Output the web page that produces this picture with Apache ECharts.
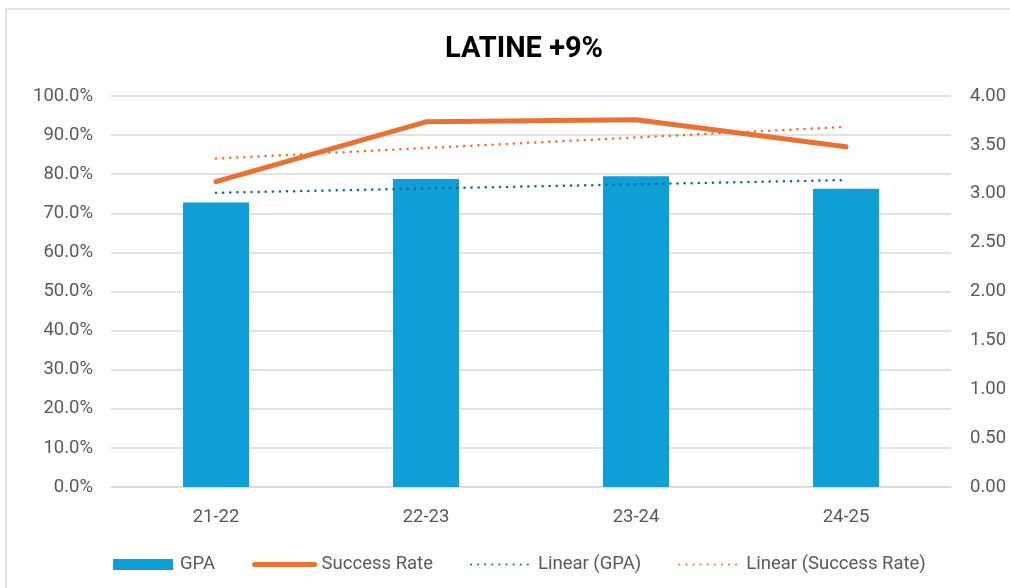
<!DOCTYPE html>
<html><head><meta charset="utf-8">
<script src="https://cdn.jsdelivr.net/npm/echarts@6/dist/echarts.min.js"></script>
<style>html,body{margin:0;padding:0;background:#fff}#c{width:1010px;height:588px}</style>
</head><body><div id="c"></div>
<script>
var categories = ['21-22', '22-23', '23-24', '24-25'];
var gpa = [2.91, 3.15, 3.18, 3.05];
var successRate = [78.1, 93.4, 93.9, 87.0];
// trendline endpoints (first and last category)
var gpaTrend = [3.01, null, null, 3.14];
var successTrend = [84.0, null, null, 92.1];
var title = 'LATINE +9%';

var chart = echarts.init(document.getElementById('c'));
var gray = '#595959';
var font = 'Roboto, "Liberation Sans", sans-serif';
var hideSym = { opacity: 0 };
chart.setOption({
  animation: false,
  title: { text: title, left: 440, top: 30,
    textStyle: { fontFamily: 'Roboto', fontWeight: 'bold', fontSize: 29, color: '#000' } },
  graphic: [{ type: 'rect', shape: { x: 6, y: 9, width: 1010, height: 600 },
    style: { fill: 'none', stroke: '#d9d9d9', lineWidth: 1.5 }, z: -1 }],
  grid: { left: 111, right: 59, top: 96, bottom: 101 },
  legend: {
    top: 550, left: 108, itemGap: 37, itemWidth: 60, itemHeight: 11,
    textStyle: { fontFamily: font, fontSize: 18.5, color: gray, padding: [0, 0, 0, 2] },
    data: [
      { name: 'GPA', icon: 'rect' },
      { name: 'Success Rate', itemStyle: hideSym, lineStyle: { width: 5 } },
      { name: 'Linear (GPA)', itemStyle: hideSym },
      { name: 'Linear (Success Rate)', itemStyle: hideSym }
    ]
  },
  xAxis: {
    type: 'category', data: categories,
    axisTick: { show: false },
    axisLine: { lineStyle: { color: '#d9d9d9', width: 1.5 } },
    axisLabel: { color: gray, fontSize: 18.5, margin: 21, fontFamily: font }
  },
  yAxis: [{
    type: 'value', min: 0, max: 100, interval: 10,
    axisLabel: { color: gray, fontSize: 18.5, margin: 18, fontFamily: font,
      formatter: function (v) { return v.toFixed(1) + '%'; } },
    splitLine: { lineStyle: { color: '#d9d9d9', width: 1.5 } },
    axisLine: { show: false }, axisTick: { show: false }
  }, {
    type: 'value', min: 0, max: 4, interval: 0.5,
    axisLabel: { color: gray, fontSize: 18.5, margin: 19, fontFamily: font,
      formatter: function (v) { return v.toFixed(2); } },
    splitLine: { show: false }, axisLine: { show: false }, axisTick: { show: false }
  }],
  series: [{
    name: 'GPA', type: 'bar', yAxisIndex: 1, data: gpa, barWidth: 66,
    itemStyle: { color: '#0F9ED5' }
  }, {
    name: 'Success Rate', type: 'line', yAxisIndex: 0, data: successRate,
    symbol: 'none', lineStyle: { color: '#E97132', width: 5, cap: 'round', join: 'round' },
    itemStyle: { color: '#E97132' }, z: 5
  }, {
    name: 'Linear (GPA)', type: 'line', yAxisIndex: 1, data: gpaTrend, connectNulls: true,
    symbol: 'none', lineStyle: { color: '#1A6690', width: 2.5, type: [0.1, 7], cap: 'round' },
    itemStyle: { color: '#1A6690' }, z: 4
  }, {
    name: 'Linear (Success Rate)', type: 'line', yAxisIndex: 0, data: successTrend, connectNulls: true,
    symbol: 'none', lineStyle: { color: '#E97132', width: 2.5, type: [0.1, 7], cap: 'round' },
    itemStyle: { color: '#E97132' }, z: 4
  }]
});
</script></body></html>
